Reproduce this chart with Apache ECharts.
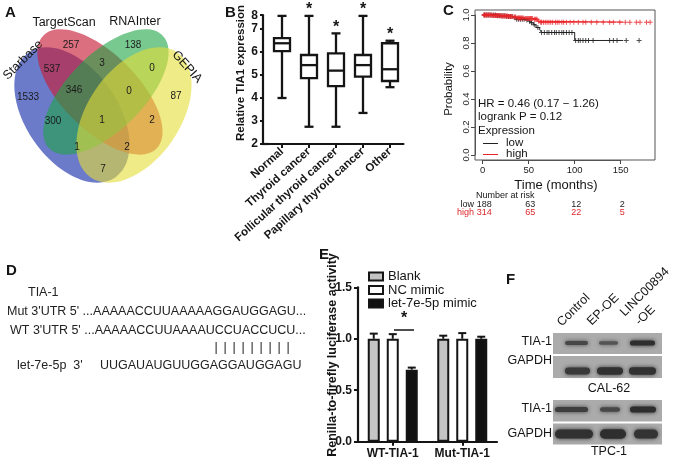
<!DOCTYPE html>
<html>
<head>
<meta charset="utf-8">
<script src="https://cdn.jsdelivr.net/npm/echarts@6.0.0/dist/echarts.min.js"></script>
<style>
html,body{margin:0;padding:0;background:#fff;}
#chart{width:676px;height:464px;}
</style>
</head>
<body>
<div id="chart"></div>
<script>
// ================= DATA =================
// Panel A: Venn diagram
const vennSets = ['Starbase', 'TargetScan', 'RNAInter', 'GEPIA'];
// region counts: S, T, R, G, S&T, T&R, R&G, S&T&R, T&R&G, all, T&G, S&R, S&R&G, S&T&G, S&G
const vennCounts = [1533, 257, 138, 87, 537, 3, 0, 346, 0, 1, 2, 300, 1, 2, 7];

// Panel B: box plot (min, Q1, median, Q3, max)
const bCategories = ['Normal', 'Thyroid cancer', 'Follicular thyroid cancer', 'Papillary thyroid cancer', 'Other'];
const bMin = [4.0, 2.75, 2.75, 3.35, 4.47];
const bQ1 = [6.04, 4.86, 4.52, 4.93, 4.74];
const bMedian = [6.38, 5.43, 5.19, 5.43, 5.25];
const bQ3 = [6.6, 5.87, 5.94, 5.87, 6.38];
const bMax = [7.57, 7.57, 6.81, 7.57, 6.49];
const bSignif = ['', '*', '*', '*', '*'];
const bTopTickLabel = '8';

// Panel C: Kaplan-Meier
const kmLowTime = [0, 15, 25, 33, 36, 47, 50, 52, 55, 58, 62, 64, 100, 170];
const kmLowSurv = [1, 0.995, 0.99, 0.98, 0.97, 0.965, 0.955, 0.945, 0.93, 0.91, 0.895, 0.875, 0.818, 0.818];
const kmHighTime = [0, 10, 20, 28, 33, 37, 45, 55, 60, 62, 182];
const kmHighSurv = [1, 0.997, 0.993, 0.99, 0.985, 0.978, 0.975, 0.97, 0.955, 0.948, 0.948];
const kmLowCensor = [2, 4, 6, 8, 10, 12, 14, 16, 18, 20, 22, 24, 26, 28, 30, 32, 35, 37, 39, 41, 43, 45, 48, 51, 53, 56, 60, 64, 67, 70, 72, 75, 78, 80, 83, 86, 88, 91, 94, 97, 101, 104, 106, 109, 112, 115, 120, 138, 142, 146, 156, 170];
const kmHighCensor = [1, 2, 3, 4, 5, 6, 7, 8, 9, 10, 11, 12, 13, 14, 15, 16, 17, 18, 19, 20, 21, 22, 23, 24, 25, 26, 27, 28, 29, 30, 31, 32, 34, 35, 36, 38, 39, 40, 41, 42, 43, 44, 46, 47, 48, 49, 50, 51, 52, 53, 54, 56, 57, 58, 59, 61, 63, 64, 66, 68, 70, 72, 74, 76, 79, 81, 83, 86, 88, 91, 95, 99, 104, 109, 112, 118, 124, 131, 138, 142, 149, 155, 160, 167, 171, 178, 182];
const riskTimes = [0, 50, 100, 150];
const riskLow = [188, 63, 12, 2];
const riskHigh = [314, 65, 22, 5];

// Panel E: luciferase bars
const eGroups = ['WT-TIA-1', 'Mut-TIA-1'];
const eSeriesNames = ['Blank', 'NC mimic', 'let-7e-5p mimic'];
const eBlank = [1.0, 1.0];
const eBlankErr = [0.05, 0.03];
const eNC = [1.0, 1.0];
const eNCErr = [0.045, 0.055];
const eLet = [0.70, 1.0];
const eLetErr = [0.02, 0.02];

// Panel F: western blot band intensities (relative)
const wbLanes = ['Control', 'EP-OE', 'LINC00894'];
const wbCalTIA = [0.72, 0.6, 0.95];
const wbCalGAPDH = [0.85, 0.92, 0.92];
const wbTpcTIA = [0.8, 0.72, 0.95];
const wbTpcGAPDH = [0.92, 0.95, 0.9];

// ================= LAYOUT / STYLE =================
const FONT = '"Liberation Sans", Arial, Helvetica, sans-serif';
const INK = '#151515';
const vennColors = ['rgba(50,70,180,0.72)', 'rgba(200,30,55,0.64)', 'rgba(30,165,70,0.6)', 'rgba(228,222,55,0.6)'];
const vennShapes = [
  { cx: 72, cy: 115, rx: 76, ry: 46, rot: -55 },
  { cx: 100, cy: 92, rx: 80, ry: 38, rot: -45 },
  { cx: 106, cy: 92, rx: 80, ry: 38, rot: 45 },
  { cx: 134, cy: 115, rx: 76, ry: 46, rot: 55 }
];
const vennCountPos = [[28, 97], [71, 45], [133, 45], [176, 96], [52, 69], [102, 63], [152, 68], [74, 90], [129, 91], [102, 120], [152, 120], [53, 121], [77, 147], [127, 147], [103, 169]];
const vennLabelPos = [
  { x: 23, y: 60, rot: 45 }, { x: 64, y: 23, rot: 0 }, { x: 135, y: 22, rot: 0 }, { x: 187, y: 67, rot: -48 }
];

function txt(text, x, y, font, opts) {
  opts = opts || {};
  return {
    type: 'text', x: x, y: y, rotation: (opts.rot || 0) * Math.PI / 180, silent: true, z: 10,
    style: {
      text: text, x: 0, y: 0, font: font, fill: opts.fill || INK,
      align: opts.align || 'left', verticalAlign: opts.va || 'middle'
    }
  };
}

const graphics = [];
// panel letters
graphics.push(txt('A', 5, 13, 'bold 15px ' + FONT));
graphics.push(txt('B', 225, 13, 'bold 15px ' + FONT));
graphics.push(txt('C', 443, 11, 'bold 15px ' + FONT));
graphics.push(txt('D', 6, 271, 'bold 15px ' + FONT));
graphics.push(txt('E', 319, 255, 'bold 15px ' + FONT));
graphics.push(txt('F', 506, 280, 'bold 15px ' + FONT));

// Venn ellipses
vennShapes.forEach(function (s, i) {
  graphics.push({
    type: 'ellipse', x: s.cx, y: s.cy, rotation: s.rot * Math.PI / 180, silent: true, z: 1,
    shape: { cx: 0, cy: 0, rx: s.rx, ry: s.ry },
    style: { fill: vennColors[i], stroke: null }
  });
});
vennCounts.forEach(function (c, i) {
  graphics.push(txt(String(c), vennCountPos[i][0], vennCountPos[i][1], '10px ' + FONT, { align: 'center', fill: '#1a1a1a' }));
});
vennSets.forEach(function (n, i) {
  const p = vennLabelPos[i];
  graphics.push(txt(n, p.x, p.y, '12.5px ' + FONT, { align: 'center', rot: p.rot }));
});

// Panel B title and axis joint
graphics.push(txt('Relative TIA1 expression', 241, 73, 'bold 11.5px ' + FONT, { align: 'center', rot: 90 }));
graphics.push({ type: 'line', silent: true, z: 5, shape: { x1: 262, y1: 144, x2: 269, y2: 144 }, style: { stroke: INK, lineWidth: 2.2 } });

// Panel C texts
graphics.push({ type: 'rect', silent: true, z: 5, shape: { x: 475, y: 10, width: 180, height: 150 }, style: { fill: null, stroke: '#555', lineWidth: 1 } });
graphics.push(txt('Probability', 449, 89, '11.5px ' + FONT, { align: 'center', rot: 90 }));
graphics.push(txt('HR = 0.46 (0.17 \u2212 1.26)', 478, 104, '11.5px ' + FONT));
graphics.push(txt('logrank P = 0.12', 478, 117, '11.5px ' + FONT));
graphics.push(txt('Expression', 478, 130.5, '11.5px ' + FONT));
graphics.push({ type: 'line', silent: true, z: 6, shape: { x1: 483, y1: 143.5, x2: 498, y2: 143.5 }, style: { stroke: '#222', lineWidth: 1 } });
graphics.push({ type: 'line', silent: true, z: 6, shape: { x1: 483, y1: 154.5, x2: 498, y2: 154.5 }, style: { stroke: '#e8262a', lineWidth: 1 } });
graphics.push(txt('low', 506, 142.5, '11.5px ' + FONT));
graphics.push(txt('high', 506, 154, '11.5px ' + FONT));
graphics.push(txt('Time (months)', 556, 185, '13px ' + FONT, { align: 'center' }));
graphics.push(txt('Number at risk', 476, 196, '9px ' + FONT));
graphics.push(txt('low', 474, 204.5, '9px ' + FONT, { align: 'right' }));
graphics.push(txt('high', 474, 213, '9px ' + FONT, { align: 'right', fill: '#e0262a' }));

// Panel D texts
const dFont = '12.5px ' + FONT;
graphics.push(txt('TIA-1', 28, 293, dFont, { fill: '#222' }));
graphics.push(txt("Mut 3'UTR 5' ...AAAAACCUUAAAAAGGAUGGAGU...", 7, 312, dFont, { fill: '#222' }));
graphics.push(txt("WT 3'UTR 5' ...AAAAACCUUAAAAUCCUACCUCU...", 10, 331, dFont, { fill: '#222' }));
const dBarX = [216, 225, 234, 243, 252, 261, 270, 279, 288];
dBarX.forEach(function (x) { graphics.push(txt('|', x, 348, dFont, { align: 'center', fill: '#222' })); });
graphics.push(txt("let-7e-5p  3'", 17, 366, dFont, { fill: '#222' }));
graphics.push(txt('UUGAUAUGUUGGAGGAUGGAGU', 100, 366, dFont, { fill: '#222' }));

// Panel E annotations
graphics.push(txt('Renilla-to-firefly luciferase activity', 333, 355, 'bold 12.5px ' + FONT, { align: 'center', rot: 90 }));
graphics.push({ type: 'line', silent: true, z: 6, shape: { x1: 394, y1: 330, x2: 414, y2: 330 }, style: { stroke: INK, lineWidth: 1.5 } });
graphics.push(txt('*', 404, 327, 'bold 16px ' + FONT, { align: 'center', va: 'bottom' }));

// Panel F western blot
const wbStripX = 553, wbStripW = 109;
const wbStrips = [
  { y: 333, h: 21, vals: wbCalTIA, by: 343, bh: 5.5, lanes: [[563, 590], [597, 620], [628, 657]] },
  { y: 356, h: 22, vals: wbCalGAPDH, by: 371, bh: 8, lanes: [[563, 592], [595, 625], [627, 658]] },
  { y: 400, h: 21.5, vals: wbTpcTIA, by: 409.5, bh: 6.5, lanes: [[553, 590], [598, 622], [628, 658]] },
  { y: 423.5, h: 21, vals: wbTpcGAPDH, by: 434, bh: 10, lanes: [[553, 595], [598, 628], [632, 660]] }
];
wbStrips.forEach(function (s) {
  graphics.push({ type: 'rect', silent: true, z: 2, shape: { x: wbStripX, y: s.y, width: wbStripW, height: s.h }, style: { fill: '#ababab' } });
  s.vals.forEach(function (v, i) {
    const g = Math.round(150 - 110 * v);
    const col = 'rgb(' + g + ',' + g + ',' + g + ')';
    const l = s.lanes[i];
    graphics.push({
      type: 'rect', silent: true, z: 3,
      shape: { x: l[0] + 2, y: s.by - s.bh * v / 2, width: l[1] - l[0] - 4, height: s.bh * v, r: s.bh / 2 },
      style: { fill: col, shadowBlur: 4, shadowColor: col }
    });
  });
});
graphics.push(txt('TIA-1', 552, 342, '12.5px ' + FONT, { align: 'right' }));
graphics.push(txt('GAPDH', 552, 361, '12.5px ' + FONT, { align: 'right' }));
graphics.push(txt('CAL-62', 609, 389, '12.5px ' + FONT, { align: 'center' }));
graphics.push(txt('TIA-1', 552, 409, '12.5px ' + FONT, { align: 'right' }));
graphics.push(txt('GAPDH', 552, 434, '12.5px ' + FONT, { align: 'right' }));
graphics.push(txt('TPC-1', 609, 452, '12.5px ' + FONT, { align: 'center' }));
const wbLabelPos = [[564, 329], [594, 328], [627, 319]];
wbLanes.forEach(function (n, i) {
  graphics.push(txt(n, wbLabelPos[i][0], wbLabelPos[i][1], '12.5px ' + FONT, { rot: 45, va: 'bottom' }));
});
graphics.push(txt('-OE', 642, 328, '12.5px ' + FONT, { rot: 45, va: 'bottom' }));

// ================= CHART =================
function survAt(T, S, t) {
  let s = S[0];
  for (let i = 0; i < T.length; i++) { if (T[i] <= t) s = S[i]; }
  return s;
}
const plusSymbol = 'path://M4,0H6V4H10V6H6V10H4V6H0V4H4Z';

const bData = bCategories.map(function (c, i) { return [i, bMin[i], bQ1[i], bMedian[i], bQ3[i], bMax[i]]; });

function renderBox(params, api) {
  const i = api.value(0);
  const x = api.coord([i, 5])[0];
  const yy = function (v) { return api.coord([i, v])[1]; };
  const yMin = yy(api.value(1)), yQ1 = yy(api.value(2)), yMed = yy(api.value(3)), yQ3 = yy(api.value(4)), yMax = yy(api.value(5));
  const hw = 8, cw = 4.5;
  const st = { stroke: INK, lineWidth: 2.3 };
  const ch = [
    { type: 'line', shape: { x1: x, y1: yMax, x2: x, y2: yQ3 }, style: st },
    { type: 'line', shape: { x1: x, y1: yQ1, x2: x, y2: yMin }, style: st },
    { type: 'line', shape: { x1: x - cw, y1: yMax, x2: x + cw, y2: yMax }, style: st },
    { type: 'line', shape: { x1: x - cw, y1: yMin, x2: x + cw, y2: yMin }, style: st },
    { type: 'rect', shape: { x: x - hw, y: yQ3, width: 2 * hw, height: yQ1 - yQ3 }, style: { stroke: INK, lineWidth: 2.3, fill: '#fff' } },
    { type: 'line', shape: { x1: x - hw, y1: yMed, x2: x + hw, y2: yMed }, style: st }
  ];
  const sig = bSignif[params.dataIndex];
  if (sig) ch.push({ type: 'text', style: { text: sig, x: x, y: yMax + 2, align: 'center', verticalAlign: 'bottom', font: 'bold 16px ' + FONT, fill: INK } });
  return { type: 'group', children: ch };
}

// E bars layout
const eBarW = 12, eBarGapPx = 7;
const eVals = [eBlank, eNC, eLet];
const eErrs = [eBlankErr, eNCErr, eLetErr];
const eFill = ['#c4c4c4', '#ffffff', '#111111'];
const eErrData = [];
eVals.forEach(function (arr, k) { arr.forEach(function (v, g) { eErrData.push([g, v, eErrs[k][g], k]); }); });

function renderErr(params, api) {
  const g = api.value(0), v = api.value(1), e = api.value(2), k = api.value(3);
  const off = (k - 1) * (eBarW + eBarGapPx);
  const p0 = api.coord([g, v]);
  const p1 = api.coord([g, v + e]);
  const x = p0[0] + off;
  const st = { stroke: INK, lineWidth: 2 };
  return {
    type: 'group', children: [
      { type: 'line', shape: { x1: x, y1: p0[1], x2: x, y2: p1[1] }, style: st },
      { type: 'line', shape: { x1: x - 4, y1: p1[1], x2: x + 4, y2: p1[1] }, style: st }
    ]
  };
}

const option = {
  animation: false,
  backgroundColor: '#fff',
  textStyle: { fontFamily: FONT },
  grid: [
    { left: 268.5, top: 15.2, width: 135, height: 128.8, outerBoundsMode: 'none', containLabel: false },
    { left: 482.7, top: 15, width: 138, height: 140, outerBoundsMode: 'none', containLabel: false },
    { left: 358, top: 287.3, width: 139, height: 154.4, outerBoundsMode: 'none', containLabel: false }
  ],
  xAxis: [
    {
      gridIndex: 0, type: 'category', data: bCategories,
      axisLine: { show: true, onZero: false, lineStyle: { color: INK, width: 2.2 } },
      axisTick: { show: true, alignWithLabel: true, length: 4, lineStyle: { color: INK, width: 2 } },
      axisLabel: {
        interval: 0, rotate: 42, margin: 6,
        fontFamily: FONT, fontWeight: 'bold', fontSize: 11.5, color: INK
      }
    },
    {
      gridIndex: 1, type: 'value', min: 0, max: 150, interval: 50, offset: 5,
      splitLine: { show: false },
      axisLine: { show: true, onZero: false, lineStyle: { color: '#555', width: 1 } },
      axisTick: { show: true, length: 4, lineStyle: { color: '#444', width: 1 } },
      axisLabel: { margin: 5, fontFamily: FONT, fontSize: 9.5, color: '#222' }
    },
    {
      gridIndex: 2, type: 'category', data: eGroups,
      axisLine: { show: true, onZero: false, lineStyle: { color: INK, width: 2.2 } },
      axisTick: { show: true, alignWithLabel: true, length: 4, lineStyle: { color: INK, width: 2 } },
      axisLabel: { interval: 0, margin: 6, fontFamily: FONT, fontWeight: 'bold', fontSize: 12, color: INK }
    }
  ],
  yAxis: [
    {
      gridIndex: 0, type: 'value', min: 2, max: 7.6, interval: 1, offset: 5.5,
      splitLine: { show: false },
      axisLine: { show: true, onZero: false, lineStyle: { color: INK, width: 2.2 } },
      axisTick: { show: true, length: 3, lineStyle: { color: INK, width: 2 } },
      axisLabel: {
        margin: 5,
        formatter: function (v) { return v > 7.5 ? bTopTickLabel : String(v); },
        fontFamily: FONT, fontWeight: 'bold', fontSize: 12, color: INK
      }
    },
    {
      gridIndex: 1, type: 'value', min: 0, max: 1, interval: 0.2, offset: 7.7,
      splitLine: { show: false },
      axisLine: { show: true, onZero: false, lineStyle: { color: '#555', width: 1 } },
      axisTick: { show: true, length: 4, lineStyle: { color: '#444', width: 1 } },
      axisLabel: {
        rotate: 90, margin: 4,
        formatter: function (v) { return v.toFixed(1); },
        fontFamily: FONT, fontSize: 9.5, color: '#222'
      }
    },
    {
      gridIndex: 2, type: 'value', min: 0, max: 1.5, interval: 0.5,
      splitLine: { show: false },
      axisLine: { show: true, onZero: false, lineStyle: { color: INK, width: 2.2 } },
      axisTick: { show: true, length: 4, lineStyle: { color: INK, width: 2 } },
      axisLabel: {
        margin: 6, formatter: function (v) { return v.toFixed(1); },
        fontFamily: FONT, fontWeight: 'bold', fontSize: 12, color: INK
      }
    }
  ],
  legend: {
    data: eSeriesNames, orient: 'vertical', left: 368, top: 270, padding: 0,
    itemWidth: 14, itemHeight: 8, itemGap: 0.5, icon: 'rect',
    itemStyle: { borderColor: INK, borderWidth: 2 },
    textStyle: { fontFamily: FONT, fontSize: 13, color: INK, lineHeight: 13, padding: [0, 0, 0, 0] },
    selectedMode: false
  },
  series: [
    {
      type: 'custom', name: 'box', xAxisIndex: 0, yAxisIndex: 0, data: bData, renderItem: renderBox,
      encode: { x: 0, y: [1, 2, 3, 4, 5] }, clip: false, silent: true
    },
    {
      type: 'line', name: 'low', xAxisIndex: 1, yAxisIndex: 1, step: 'end', showSymbol: false, silent: true, clip: false,
      data: kmLowTime.map(function (t, i) { return [t, kmLowSurv[i]]; }),
      lineStyle: { color: '#222', width: 1 }, z: 3
    },
    {
      type: 'line', name: 'high', xAxisIndex: 1, yAxisIndex: 1, step: 'end', showSymbol: false, silent: true, clip: false,
      data: kmHighTime.map(function (t, i) { return [t, kmHighSurv[i]]; }),
      lineStyle: { color: '#e8262a', width: 1 }, z: 4
    },
    {
      type: 'scatter', name: 'lowCens', xAxisIndex: 1, yAxisIndex: 1, symbol: plusSymbol, symbolSize: 5, silent: true, clip: false,
      data: kmLowCensor.map(function (t) { return [t, survAt(kmLowTime, kmLowSurv, t)]; }),
      itemStyle: { color: '#222' }, z: 3
    },
    {
      type: 'scatter', name: 'highCens', xAxisIndex: 1, yAxisIndex: 1, symbol: plusSymbol, symbolSize: 5, silent: true, clip: false,
      data: kmHighCensor.map(function (t) { return [t, survAt(kmHighTime, kmHighSurv, t)]; }),
      itemStyle: { color: '#e8262a' }, z: 4
    },
    {
      type: 'custom', name: 'risk', xAxisIndex: 1, yAxisIndex: 1, clip: false, silent: true,
      data: riskTimes.map(function (t, i) { return [t, riskLow[i], riskHigh[i]]; }),
      encode: { x: 0 },
      renderItem: function (params, api) {
        const x = api.coord([api.value(0), 0])[0] + 1.5;
        return {
          type: 'group', children: [
            { type: 'text', style: { text: String(api.value(1)), x: x, y: 204.5, align: 'center', verticalAlign: 'middle', font: '9px ' + FONT, fill: '#222' } },
            { type: 'text', style: { text: String(api.value(2)), x: x, y: 213, align: 'center', verticalAlign: 'middle', font: '9px ' + FONT, fill: '#e0262a' } }
          ]
        };
      }
    },
    {
      type: 'bar', name: eSeriesNames[0], xAxisIndex: 2, yAxisIndex: 2, data: eBlank, barWidth: eBarW, barGap: (eBarGapPx / eBarW * 100) + '%',
      itemStyle: { color: eFill[0], borderColor: INK, borderWidth: 2 }, silent: true
    },
    {
      type: 'bar', name: eSeriesNames[1], xAxisIndex: 2, yAxisIndex: 2, data: eNC, barWidth: eBarW, barGap: (eBarGapPx / eBarW * 100) + '%',
      itemStyle: { color: eFill[1], borderColor: INK, borderWidth: 2 }, silent: true
    },
    {
      type: 'bar', name: eSeriesNames[2], xAxisIndex: 2, yAxisIndex: 2, data: eLet, barWidth: eBarW, barGap: (eBarGapPx / eBarW * 100) + '%',
      itemStyle: { color: eFill[2], borderColor: INK, borderWidth: 2 }, silent: true
    },
    {
      type: 'custom', name: 'err', xAxisIndex: 2, yAxisIndex: 2, data: eErrData, renderItem: renderErr,
      encode: { x: 0, y: 1 }, clip: false, silent: true, z: 1
    }
  ],
  graphic: { elements: graphics }
};

const chart = echarts.init(document.getElementById('chart'), null, { renderer: 'canvas', width: 676, height: 464 });
chart.setOption(option);
</script>
</body>
</html>
